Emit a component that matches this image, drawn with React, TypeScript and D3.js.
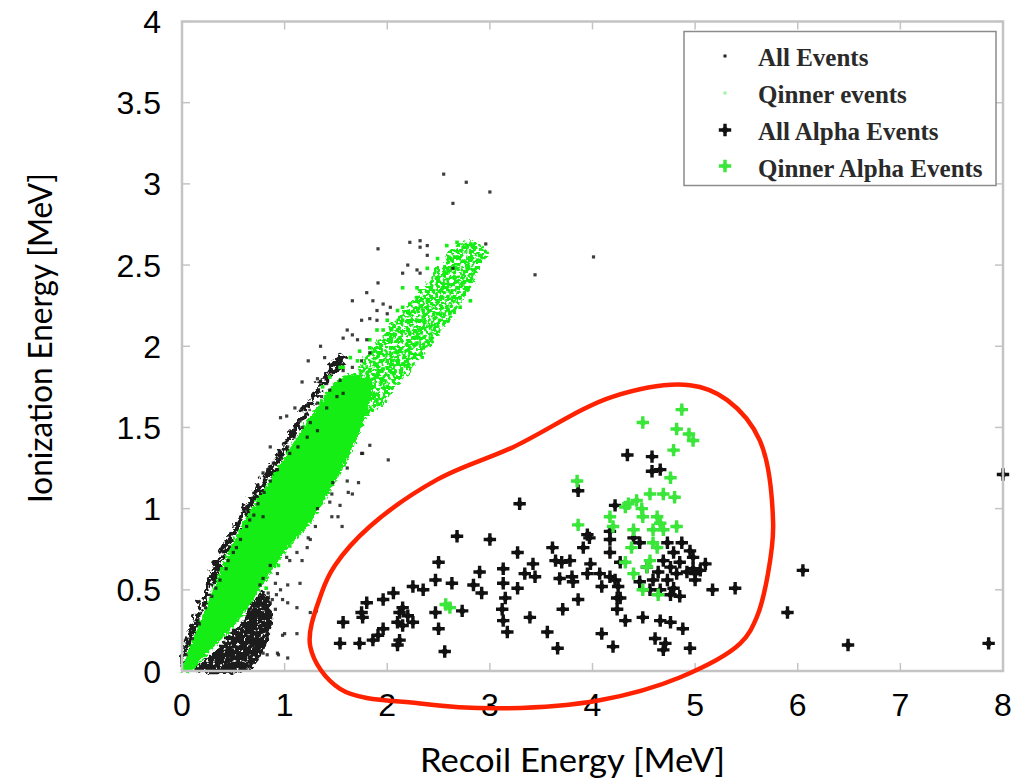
import React from 'react';
import * as d3 from 'd3';

// axis ticks
const xTicks = [0, 1, 2, 3, 4, 5, 6, 7, 8];
const yTicks = [0, 0.5, 1, 1.5, 2, 2.5, 3, 3.5, 4];
const yTickLabels = ['0', '0.5', '1', '1.5', '2', '2.5', '3', '3.5', '4'];

const legendLabels = ['All Events', 'Qinner events', 'All Alpha Events', 'Qinner Alpha Events'];

type Pt = [number, number];

// saturated part of the Qinner band (too dense to see single events)
const qinnerCore: Pt[] = [
  [0, 0], [0.05, 0.11], [0.18, 0.31], [0.30, 0.50], [0.45, 0.73], [0.62, 0.94], [0.81, 1.13],
  [1.02, 1.34], [1.17, 1.49], [1.32, 1.63], [1.45, 1.75], [1.60, 1.82], [1.85, 1.78], [1.80, 1.60],
  [1.64, 1.34], [1.46, 1.13], [1.27, 0.93], [1.00, 0.73], [0.76, 0.50], [0.55, 0.31], [0.25, 0.11],
  [0.08, 0],
];

// thinner upper part of the Qinner band
const qinnerHalo: Pt[] = [
  [1.15, 1.42], [1.35, 1.61], [1.59, 1.76], [1.83, 1.97], [2.08, 2.16], [2.32, 2.34], [2.51, 2.50],
  [2.66, 2.62], [2.86, 2.65], [2.98, 2.59], [2.90, 2.47], [2.76, 2.31], [2.61, 2.16], [2.42, 2.00],
  [2.22, 1.85], [2.03, 1.70], [1.78, 1.54], [1.59, 1.39], [1.44, 1.24],
];

// dense edge of all events above the Qinner band
const allEventsFringe: Pt[] = [
  [0, 0], [0, 0.13], [0.10, 0.31], [0.21, 0.50], [0.36, 0.73], [0.54, 0.94], [0.72, 1.13],
  [0.93, 1.34], [1.07, 1.49], [1.21, 1.65], [1.39, 1.84], [1.54, 1.96], [1.59, 1.90], [1.44, 1.80],
  [1.27, 1.64], [1.13, 1.47], [0.98, 1.31], [0.78, 1.10], [0.60, 0.92], [0.43, 0.71], [0.28, 0.49],
  [0.16, 0.30], [0.04, 0.10],
];

// dense clump of all events below the Qinner band
const allEventsClump: Pt[] = [
  [0.14, 0], [0.27, 0.10], [0.42, 0.19], [0.57, 0.30], [0.71, 0.44], [0.78, 0.49], [0.84, 0.44],
  [0.88, 0.33], [0.84, 0.19], [0.74, 0.07], [0.61, 0],
];

// single events (recoil, ionization) in MeV
const allEventsScatter: Pt[] = [
  [2.55, 3.06], [2.77, 3.01], [3.00, 2.95], [2.64, 2.88], [4.01, 2.55], [3.44, 2.44], [2.22, 2.64],
  [2.32, 2.65], [2.32, 2.61], [2.39, 2.62], [2.39, 2.56], [2.64, 2.48], [1.91, 2.60], [2.20, 2.50],
  [2.29, 2.47], [2.15, 2.45], [2.32, 2.45], [2.96, 2.63], [1.91, 2.39], [1.80, 2.33], [1.86, 2.28],
  [1.96, 2.26], [2.03, 2.24], [1.90, 2.22], [2.00, 2.20], [1.66, 2.28], [1.75, 2.16], [1.83, 2.17],
  [1.90, 2.16], [1.57, 2.05], [1.66, 2.07], [1.71, 2.04], [1.80, 2.04], [1.61, 2.10], [1.35, 2.00],
  [1.23, 1.91], [1.39, 1.93], [1.51, 1.89], [1.57, 1.85], [1.66, 1.87], [1.75, 1.91], [1.83, 1.96],
  [1.17, 1.78], [1.32, 1.80], [1.41, 1.77], [1.54, 1.79], [1.44, 1.73], [1.36, 1.69], [1.51, 1.69],
  [1.57, 1.71], [1.41, 1.62], [1.32, 1.65], [1.10, 1.62], [0.96, 1.56], [1.02, 1.57], [1.17, 1.50],
  [1.25, 1.53], [1.22, 1.44], [1.32, 1.48], [1.13, 1.38], [1.05, 1.34], [0.96, 1.32], [0.86, 1.38],
  [0.89, 1.28], [0.79, 1.22], [0.93, 1.24], [1.83, 1.39], [1.76, 1.34], [2.01, 1.30], [1.61, 1.25],
  [1.75, 1.34], [1.61, 1.17], [1.72, 1.16], [1.66, 1.09], [1.47, 1.16], [1.46, 1.09], [1.44, 1.04],
  [1.32, 1.00], [1.30, 0.89], [1.52, 0.95], [1.56, 0.89], [1.23, 0.82], [1.22, 0.76], [1.12, 0.73],
  [1.02, 0.70], [1.05, 0.68], [0.86, 0.65], [0.93, 0.60], [0.91, 0.54], [1.03, 0.53], [0.84, 0.48],
  [0.84, 0.45], [0.86, 0.42], [1.03, 0.42], [0.79, 0.30], [0.86, 0.30], [1.00, 0.23], [1.12, 0.23],
  [0.76, 0.15], [0.83, 0.10], [0.94, 0.10], [1.03, 0.08], [0.63, 0.99], [0.79, 0.95], [1.17, 0.68],
  [1.25, 0.81], [1.46, 0.95], [1.54, 1.02], [1.62, 1.10], [0.79, 0.11], [0.93, 0.11], [0.98, 0.22],
  [1.25, 0.36], [0.76, 0.31], [1.12, 0.39], [1.31, 0.37], [1.15, 0.54],
  [0.88, 0.44], [0.92, 0.47], [0.84, 0.34], [0.78, 0.20], [0.71, 0.10], [0.66, 0.04], [0.96, 0.50],
  [0.91, 0.38], [0.98, 0.44], [0.76, 0.53], [0.79, 0.57], [0.60, 0.02],
  [0.04, 0.10], [0.10, 0.20], [0.17, 0.29], [0.23, 0.39], [0.29, 0.46], [0.37, 0.56], [0.43, 0.63],
  [0.50, 0.73], [0.57, 0.81], [0.63, 0.89], [0.70, 0.96], [0.74, 1.03], [0.80, 1.10], [0.86, 1.17],
  [0.92, 1.24], [0.97, 1.31], [1.03, 1.38], [1.09, 1.47], [1.15, 1.54], [0.53, 0.76], [0.45, 0.68],
  [0.33, 0.51], [0.66, 0.93],
];

const qinnerScatter: Pt[] = [
  [2.58, 2.62], [2.68, 2.64], [2.74, 2.61], [2.83, 2.62], [2.90, 2.56], [2.78, 2.48], [2.84, 2.47],
  [2.49, 2.54], [2.61, 2.54], [2.39, 2.48], [2.49, 2.42], [2.58, 2.45], [2.68, 2.40], [2.54, 2.36],
  [2.45, 2.34], [2.64, 2.30], [2.39, 2.28], [2.29, 2.30], [2.58, 2.24], [2.49, 2.20], [2.35, 2.22],
  [2.22, 2.20], [2.15, 2.16], [2.42, 2.12], [2.32, 2.10], [2.22, 2.08], [2.12, 2.05], [2.03, 2.04],
  [1.96, 2.10], [2.22, 1.99], [2.10, 1.96], [2.00, 1.91], [1.90, 1.89], [1.83, 1.85], [2.29, 2.02],
  [2.15, 1.89], [2.06, 1.83], [1.96, 1.79], [1.86, 1.75], [1.76, 1.71], [1.71, 1.67], [2.00, 1.75],
  [1.90, 1.67], [1.80, 1.61], [1.71, 1.56], [1.61, 1.53], [1.51, 1.50], [1.64, 1.81], [1.73, 1.79],
  [1.54, 1.67], [1.57, 1.87], [1.71, 1.91], [1.83, 1.99], [2.10, 2.10], [2.15, 2.24], [2.29, 2.16],
  [2.35, 2.18], [2.49, 2.28], [2.54, 2.30], [2.68, 2.36], [2.74, 2.39], [2.68, 2.55], [2.81, 2.53],
  [2.71, 2.30], [2.42, 2.36], [2.15, 2.36], [2.10, 2.22], [2.00, 2.16], [1.90, 2.10], [1.83, 2.04],
  [1.73, 1.97], [1.64, 1.93], [1.54, 1.87], [1.44, 1.81], [1.37, 1.75], [1.96, 1.86], [2.10, 1.91],
  [2.22, 1.96], [2.35, 1.99], [2.42, 2.05], [2.51, 2.16], [2.61, 2.20], [2.71, 2.24], [2.81, 2.28],
  [2.81, 2.40], [2.88, 2.53], [2.29, 2.36], [2.22, 2.26], [1.93, 1.96], [1.67, 1.75], [1.57, 1.62],
  [1.47, 1.59], [1.83, 1.79], [1.90, 1.81], [2.03, 1.85],
  [1.62, 1.42], [1.54, 1.29], [1.46, 1.19], [1.36, 1.08], [1.27, 0.98], [1.15, 0.88], [1.05, 0.77],
  [0.94, 0.65], [0.82, 0.51], [1.73, 1.64],
];

// alpha candidates
const alphaAll: Pt[] = [
  [1.54, 0.17], [1.57, 0.30], [1.73, 0.17], [1.75, 0.36], [1.80, 0.42], [1.76, 0.33], [1.86, 0.19],
  [1.91, 0.22], [1.96, 0.26], [1.96, 0.44], [2.06, 0.48], [2.10, 0.16], [2.12, 0.19], [2.10, 0.30],
  [2.12, 0.36], [2.15, 0.39], [2.15, 0.28], [2.20, 0.34], [2.25, 0.30], [2.25, 0.52], [2.35, 0.50],
  [2.47, 0.56], [2.47, 0.36], [2.50, 0.67], [2.50, 0.26], [2.56, 0.12], [2.63, 0.54], [2.68, 0.83],
  [2.73, 0.37], [2.84, 0.53], [2.90, 0.61], [2.92, 0.48], [3.00, 0.81], [3.13, 0.63], [3.13, 0.54],
  [3.15, 0.45], [3.12, 0.38], [3.13, 0.31], [3.17, 0.24], [3.27, 0.51],
  [3.27, 0.73], [3.29, 1.03], [3.34, 0.60], [3.39, 0.33], [3.42, 0.66], [3.44, 0.58], [3.56, 0.24],
  [3.61, 0.76], [3.64, 0.68], [3.70, 0.67], [3.78, 0.68], [3.68, 0.57], [3.80, 0.58], [3.81, 0.55],
  [3.71, 0.38], [3.66, 0.14], [3.86, 0.44], [3.86, 1.11], [3.91, 0.76], [3.95, 0.84], [3.97, 0.82],
  [3.95, 0.60], [3.98, 0.66], [4.07, 0.60], [4.09, 0.52], [4.09, 0.23], [4.17, 0.86], [4.17, 0.81],
  [4.17, 0.73], [4.17, 0.58], [4.22, 0.56], [4.24, 0.38], [4.22, 1.02], [4.27, 0.67], [4.25, 0.52],
  [4.24, 0.45], [4.27, 0.45], [4.20, 0.15], [4.32, 0.31], [4.40, 0.82], [4.46, 0.79], [4.49, 0.33],
  [4.34, 1.33], [4.58, 1.32], [4.58, 1.23], [4.66, 1.24], [4.66, 0.31], [4.76, 0.30], [4.88, 0.26],
  [4.61, 0.20], [4.71, 0.17], [4.69, 0.13], [4.95, 0.14],
  [4.73, 0.79], [4.87, 0.79], [4.95, 0.74], [4.79, 0.73], [4.69, 0.68], [4.85, 0.67], [4.76, 0.64],
  [4.98, 0.70], [5.10, 0.66], [4.64, 0.61], [4.82, 0.60], [4.92, 0.61], [4.59, 0.56], [4.73, 0.56],
  [4.79, 0.51], [4.66, 0.50], [4.85, 0.46], [5.05, 0.62], [4.53, 0.64], [4.46, 0.55], [4.56, 0.50],
  [4.76, 0.47], [5.00, 0.56], [5.17, 0.50], [5.39, 0.51], [4.98, 0.63], [5.00, 0.60],
  [6.05, 0.62], [5.90, 0.36], [6.49, 0.16], [7.86, 0.17], [8.00, 1.21],
];

const alphaQinner: Pt[] = [
  [4.87, 1.61], [4.49, 1.53], [4.82, 1.49], [4.94, 1.46], [4.98, 1.42], [4.79, 1.36], [3.85, 1.17],
  [4.76, 1.19], [4.56, 1.09], [4.69, 1.09], [4.80, 1.07], [4.35, 1.03], [4.43, 1.05], [4.32, 1.01],
  [4.17, 0.95], [4.48, 1.00], [4.49, 0.95], [3.86, 0.90], [4.20, 0.89], [4.63, 0.95], [4.66, 0.91],
  [4.59, 0.87], [4.82, 0.89], [4.69, 0.87], [4.40, 0.87], [4.38, 0.76], [4.59, 0.79], [4.63, 0.76],
  [4.32, 0.67], [4.56, 0.68], [4.53, 0.64], [4.40, 0.60], [4.49, 0.50], [4.64, 0.47], [2.57, 0.41],
  [2.61, 0.39],
];

// hand drawn region around the alpha population
const regionOutline: Pt[] = [
  [1.36, 0.48], [1.25, 0.15], [1.54, -0.11], [2.32, -0.20], [3.10, -0.23], [4.07, -0.18],
  [4.85, -0.04], [5.44, 0.17], [5.60, 0.33], [5.71, 0.60], [5.76, 0.91], [5.63, 1.42], [5.31, 1.67],
  [4.95, 1.76], [4.20, 1.69], [3.23, 1.38], [2.49, 1.18], [1.83, 0.89], [1.49, 0.65],
];

const BLACK = '#1c1c1c';
const GREEN = '#14ee14';

const Plus = ({ cx, cy, color }: { cx: number; cy: number; color: string }) => (
  <g transform={`translate(${cx},${cy})`}>
    <path d="M-6.2,0H6.2M0,-6.2V6.2" stroke={color} strokeWidth={3.4} />
    <circle r={2.9} fill={color} />
  </g>
);

// speckle mask: ragged outline, then keeps the part where the noise is above a threshold
const Speckle = ({ id, freq, seed, cut }: { id: string; freq: number; seed: number; cut: number }) => (
  <filter id={id} x="-5%" y="-5%" width="110%" height="110%" colorInterpolationFilters="sRGB">
    <feTurbulence type="fractalNoise" baseFrequency={0.15} numOctaves={2} seed={seed + 11} result="warp" />
    <feDisplacementMap in="SourceGraphic" in2="warp" scale={12} xChannelSelector="R" yChannelSelector="G" result="moved" />
    <feTurbulence type="fractalNoise" baseFrequency={freq} numOctaves={2} seed={seed} result="noise" />
    <feColorMatrix in="noise" type="matrix" values={`0 0 0 0 0  0 0 0 0 0  0 0 0 0 0  12 0 0 0 ${-12 * cut}`} result="mask" />
    <feComposite in="moved" in2="mask" operator="in" />
  </filter>
);

export default function App() {
  const width = 1014;
  const height = 781;
  const x = d3.scaleLinear().domain([0, 8]).range([182, 1003]);
  const y = d3.scaleLinear().domain([0, 4]).range([671, 21.5]);

  const blob = d3.line<Pt>()
    .x(d => x(d[0]))
    .y(d => y(d[1]))
    .curve(d3.curveCatmullRomClosed.alpha(0.5));

  const frameColor = '#c4c4c4';

  return (
    <svg width={width} height={height} style={{ position: 'absolute', left: 0, top: 0, background: '#fff' }}>
      <defs>
        <Speckle id="spk-black" freq={0.3} seed={4} cut={0.33} />
        <Speckle id="spk-clump" freq={0.3} seed={9} cut={0.27} />
        <Speckle id="spk-halo" freq={0.3} seed={2} cut={0.42} />
        <filter id="rough" x="-5%" y="-5%" width="110%" height="110%" colorInterpolationFilters="sRGB">
          <feTurbulence type="fractalNoise" baseFrequency={0.4} numOctaves={2} seed={6} result="n" />
          <feDisplacementMap in="SourceGraphic" in2="n" scale={8} xChannelSelector="R" yChannelSelector="G" />
        </filter>
      </defs>
      <rect width={width} height={height} fill="#fff" />

      {/* dense regions */}
      <path d={blob(qinnerHalo) || ''} fill={GREEN} filter="url(#spk-halo)" />
      <path d={blob(allEventsFringe) || ''} fill={BLACK} filter="url(#spk-black)" />
      <path d={blob(allEventsClump) || ''} fill={BLACK} filter="url(#spk-clump)" />
      <path d={blob(qinnerCore) || ''} fill={GREEN} filter="url(#rough)" />

      {/* single events */}
      {qinnerScatter.map((d, i) => (
        <rect key={'q' + i} x={x(d[0]) - 1.8} y={y(d[1]) - 1.8} width={3.6} height={3.6} fill={GREEN} />
      ))}
      {allEventsScatter.map((d, i) => (
        <rect key={'a' + i} x={x(d[0]) - 1.6} y={y(d[1]) - 1.6} width={3.2} height={3.2} fill={BLACK} opacity={0.85} />
      ))}

      {/* alpha events */}
      {alphaAll.map((d, i) => (
        <Plus key={'p' + i} cx={x(d[0])} cy={y(d[1])} color="#111" />
      ))}
      {alphaQinner.map((d, i) => (
        <Plus key={'g' + i} cx={x(d[0])} cy={y(d[1])} color="#3be63b" />
      ))}

      {/* frame */}
      <rect x={x(0)} y={y(4)} width={x(8) - x(0)} height={y(0) - y(4)} fill="none" stroke={frameColor} strokeWidth={2.5} />
      {xTicks.map(t => (
        <g key={'xt' + t}>
          <line x1={x(t)} x2={x(t)} y1={y(0)} y2={y(0) - 8} stroke={frameColor} strokeWidth={1.5} />
          <line x1={x(t)} x2={x(t)} y1={y(4)} y2={y(4) + 8} stroke={frameColor} strokeWidth={1.5} />
          <text x={x(t)} y={716} textAnchor="middle" fontFamily="'Liberation Sans', Arial, sans-serif" fontSize={32} fill="#000">
            {t}
          </text>
        </g>
      ))}
      {yTicks.map((t, i) => (
        <g key={'yt' + t}>
          <line x1={x(0)} x2={x(0) + 8} y1={y(t)} y2={y(t)} stroke={frameColor} strokeWidth={1.5} />
          <line x1={x(8)} x2={x(8) - 8} y1={y(t)} y2={y(t)} stroke={frameColor} strokeWidth={1.5} />
          <text x={161} y={y(t)} dy="0.36em" textAnchor="end" fontFamily="'Liberation Sans', Arial, sans-serif" fontSize={32} fill="#000">
            {yTickLabels[i]}
          </text>
        </g>
      ))}

      {/* red annotation */}
      <path d={blob(regionOutline) || ''} fill="none" stroke="#ff2200" strokeWidth={4.5} />

      {/* legend */}
      <rect x={684} y={31.5} width={312} height={154} fill="#fff" stroke="#8c8c8c" strokeWidth={1.5} />
      {legendLabels.map((label, i) => {
        const base = 66 + i * 37;
        return (
          <g key={label}>
            {i === 0 && <rect x={723.5} y={base - 11.5} width={3} height={3} fill="#222" />}
            {i === 1 && <rect x={723.5} y={base - 11.5} width={3} height={3} fill="#9df59d" />}
            {i === 2 && <Plus cx={725} cy={base - 10} color="#111" />}
            {i === 3 && <Plus cx={725} cy={base - 11} color="#3be63b" />}
            <text x={758} y={base} fontFamily="'Liberation Serif', 'Times New Roman', serif" fontWeight="bold" fontSize={25} fill="#2a2a2a">
              {label}
            </text>
          </g>
        );
      })}

      {/* axis titles */}
      <text x={572.5} y={772} textAnchor="middle" fontFamily="Lato, 'Open Sans', sans-serif" fontSize={33} textLength={305} lengthAdjust="spacingAndGlyphs" fill="#000">
        Recoil Energy [MeV]
      </text>
      <text transform="translate(52,338) rotate(-90)" textAnchor="middle" fontFamily="Lato, 'Open Sans', sans-serif" fontSize={33} textLength={330} lengthAdjust="spacingAndGlyphs" fill="#000">
        Ionization Energy [MeV]
      </text>
    </svg>
  );
}
